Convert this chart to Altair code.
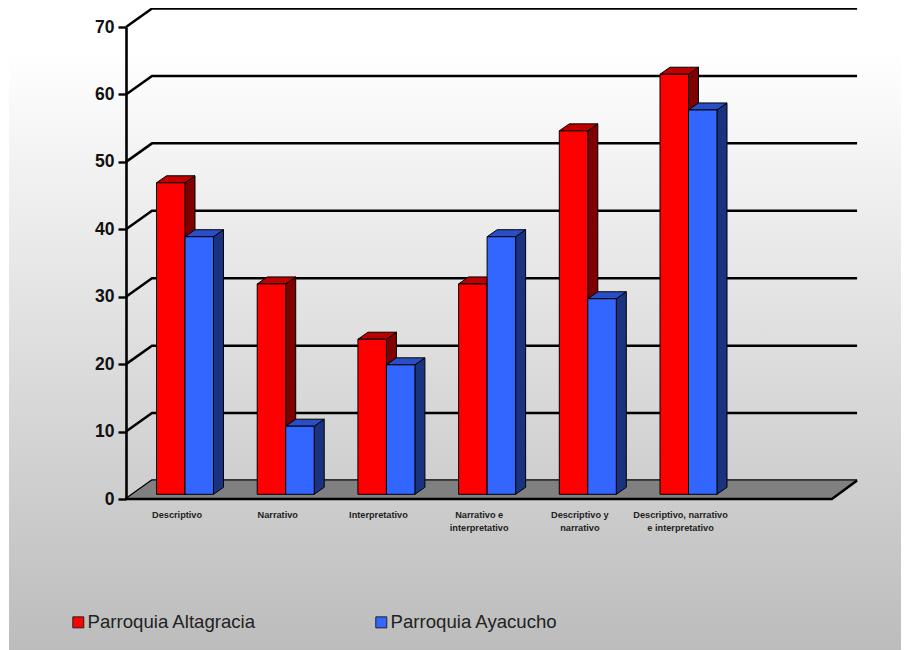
import altair as alt
import pandas as pd

CATEGORIES = ["Descriptivo", "Narrativo", "Interpretativo", "Narrativo e\ninterpretativo",
              "Descriptivo y\nnarrativo", "Descriptivo, narrativo\ne interpretativo"]
ALTAGRACIA = [46.2, 31.2, 23, 31.2, 53.9, 62.3]
AYACUCHO = [38.2, 10.1, 19.2, 38.2, 29, 57]
TICKS = [0, 10, 20, 30, 40, 50, 60, 70]
SERIES = ["Parroquia Altagracia", "Parroquia Ayacucho"]

FONT = "Liberation Sans"
W, H = 775, 472
PX_X = 100.7            # one category slot in px
PX_Y = H / 70           # one value unit in px
XMAX = W / PX_X
xs = alt.Scale(domain=[0, XMAX], nice=False, zero=False)
ys = alt.Scale(domain=[0, 70], nice=False, zero=False)

WALL_X, WALL_Y = 26 / PX_X, 18.5 / PX_Y
BASE = 4.7 / PX_Y
CENTER = 0.586
BAR = 28.5 / PX_X
DX, DY = 10 / PX_X, 7 / PX_Y
FLOOR_FRONT = 7.01
GRID_END = 7.26

Y_AXIS = alt.Axis(values=TICKS, grid=False, domain=True, domainColor="#000000", domainWidth=2.6,
                  tickColor="#000000", tickWidth=2.4, tickSize=8, ticks=True, zindex=1, title=None,
                  labelFont=FONT, labelFontSize=17.5, labelFontWeight="bold", labelColor="#111111",
                  labelPadding=4, format="d")


def X(f="x"):
    return alt.X(f"{f}:Q", scale=xs, axis=None)


def Y(f="y"):
    return alt.Y(f"{f}:Q", scale=ys, axis=Y_AXIS, stack=None)


grid_rows = []
for t in TICKS:
    for x, v in [(0, t), (WALL_X, t + WALL_Y), (GRID_END, t + WALL_Y)]:
        grid_rows.append({"tick": t, "x": x, "y": v})

floor_fill = pd.DataFrame([
    {"x": 0, "y": 0, "y2": 0},
    {"x": WALL_X, "y": WALL_Y, "y2": 0},
    {"x": FLOOR_FRONT, "y": WALL_Y, "y2": 0},
    {"x": GRID_END, "y": WALL_Y, "y2": WALL_Y},
])
floor_edge = pd.DataFrame([
    {"i": 0, "x": 0, "y": 0},
    {"i": 1, "x": FLOOR_FRONT, "y": 0},
    {"i": 2, "x": GRID_END, "y": WALL_Y},
])


def faces(values, left):
    side, top, front = [], [], []
    for i, (cat, v) in enumerate(zip(CATEGORIES, values)):
        x0 = CENTER + i + left
        x1 = x0 + BAR
        t = v + BASE
        side += [{"c": i, "x": x1, "y": t, "y2": BASE},
                 {"c": i, "x": x1 + DX, "y": t + DY, "y2": BASE + DY}]
        top += [{"c": i, "x": x0, "y": t, "y2": t},
                {"c": i, "x": x0 + DX, "y": t + DY, "y2": t},
                {"c": i, "x": x1, "y": t + DY, "y2": t},
                {"c": i, "x": x1 + DX, "y": t + DY, "y2": t + DY}]
        front.append({"x": x0, "x2": x1, "y": t, "y2": BASE})
    return pd.DataFrame(side), pd.DataFrame(top), pd.DataFrame(front)


background = alt.Chart(pd.DataFrame({"a": [0]})).mark_rect(
    color=alt.LinearGradient(
        gradient="linear", x1=0, x2=0, y1=0, y2=1,
        stops=[alt.GradientStop(color="#ffffff", offset=0),
               alt.GradientStop(color="#bcbcbc", offset=1)],
    )
).encode(x=alt.value(-117), x2=alt.value(W), y=alt.value(23), y2=alt.value(623))

floor = alt.Chart(floor_fill).mark_area(color="#808080", interpolate="linear").encode(
    x=X(), y=Y(), y2="y2:Q")

grid = alt.Chart(pd.DataFrame(grid_rows)).mark_line(color="#000000", strokeWidth=2.5).encode(
    x=X(), y=Y(), detail="tick:N")

edge = alt.Chart(floor_edge).mark_line(color="#000000", strokeWidth=2.5).encode(
    x=X(), y=Y(), order="i:Q")

color = alt.Color(
    "serie:N",
    scale=alt.Scale(domain=SERIES, range=["#ff0000", "#3366ff"]),
    legend=alt.Legend(
        orient="none", legendX=-57, legendY=586, direction="horizontal", columns=2, title=None,
        symbolType="square", symbolSize=121, symbolStrokeColor="#222222", symbolStrokeWidth=1,
        labelFont=FONT, labelFontSize=18.6, labelColor="#222222", labelOffset=0,
        columnPadding=115, padding=0, labelLimit=300,
    ),
)


def bar_layers(values, left, serie, side_col, top_col):
    side, top, front = faces(values, left)
    front = front.assign(serie=serie)
    return [
        alt.Chart(side).mark_area(color=side_col, stroke="#000000", strokeWidth=1, interpolate="linear").encode(
            x=X(), y=Y(), y2="y2:Q", detail="c:N"),
        alt.Chart(top).mark_area(color=top_col, stroke="#000000", strokeWidth=1, interpolate="linear").encode(
            x=X(), y=Y(), y2="y2:Q", detail="c:N"),
        alt.Chart(front).mark_rect(stroke="#000000", strokeWidth=1).encode(
            x=X(), x2="x2:Q", y=Y(), y2="y2:Q", color=color),
    ]


labels = alt.Chart(pd.DataFrame({"x": [0.507 + i for i in range(len(CATEGORIES))], "t": CATEGORIES})).mark_text(
    font=FONT, fontSize=9.2, fontWeight="bold", color="#222222", baseline="top", align="center",
    lineBreak="\n", lineHeight=12.5,
).encode(x=X(), y=alt.value(484), text="t:N")

layers = [background, grid, floor, edge]
layers += bar_layers(ALTAGRACIA, -BAR, SERIES[0], "#800000", "#bf0000")
layers += bar_layers(AYACUCHO, 0, SERIES[1], "#1a3380", "#2a4fc4")
layers += [labels]

chart = alt.layer(*layers).properties(
    width=W, height=H,
    padding={"left": 118, "top": 19, "right": 0, "bottom": 151},
    autosize=alt.AutoSizeParams(type="none"),
    background="#ffffff",
).configure_view(stroke=None)

chart.save("out.html", embed_options={"renderer": "svg", "actions": False})
